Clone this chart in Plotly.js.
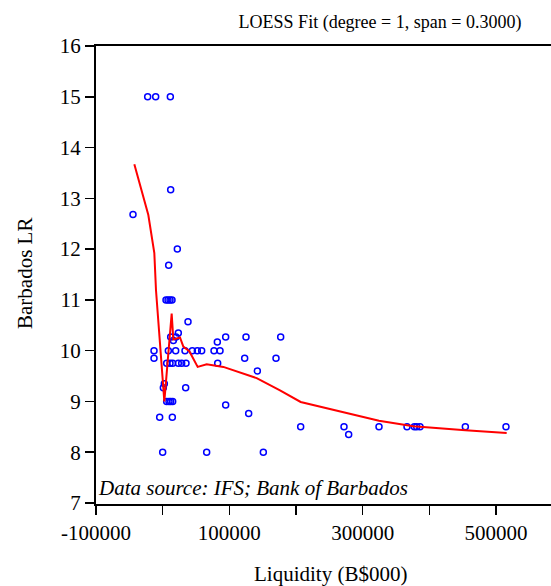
<!DOCTYPE html>
<html>
<head>
<meta charset="utf-8">
<script src="https://cdn.plot.ly/plotly-3.0.1.min.js"></script>
<style>html,body{margin:0;padding:0;background:#fff;}#chart{width:551px;height:586px;}</style>
</head>
<body>
<div id="chart"></div>
<script>
// Observed data: Liquidity (B$000) vs Barbados LR
const liquidity = [
  -22500, -10500, 11500,
  12000, -44500, 9000, 22000,
  5000, 8000, 11000, 14000,
  38000, 23500, 12000, 16000, 20000,
  82000, 94500, 125000, 177000,
  -13000, 8500, 19500, 33500, 44500, 52000, 58500, 77000, 86000,
  -13000, 123000, 170000,
  6000, 11000, 15000, 23500, 28500, 35000, 82500,
  142000,
  2500, 1000, 34500,
  6000, 9500, 12000, 15000,
  94500, 129000, -4500, 14500,
  0, 66000, 151000,
  207000, 272000, 324500, 366500, 377500, 381000, 386000, 454000, 515000,
  279000
];
const barbadosLR = [
  15, 15, 15,
  13.17, 12.68, 11.68, 12.0,
  11, 11, 11, 11,
  10.57, 10.35, 10.27, 10.2, 10.27,
  10.17, 10.27, 10.27, 10.27,
  10, 10, 10, 10, 10, 10, 10, 10, 10,
  9.85, 9.85, 9.85,
  9.75, 9.75, 9.75, 9.75, 9.75, 9.75, 9.75,
  9.6,
  9.35, 9.27, 9.27,
  9, 9, 9, 9,
  8.93, 8.76, 8.69, 8.69,
  8, 8, 8,
  8.5, 8.5, 8.5, 8.5, 8.5, 8.5, 8.5, 8.5, 8.5,
  8.35
];
// LOESS fit curve
const fitX = [-42500, -21500, -12500, -10000, 2500, 13500, 16000, 21000, 26000, 31000, 40000, 52500, 66000, 91000, 125000, 141000, 176000, 207000, 324500, 376000, 454000, 516000];
const fitY = [13.67, 12.67, 11.92, 11.19, 9.0, 10.73, 10.22, 10.24, 10.26, 10.08, 9.99, 9.68, 9.73, 9.68, 9.53, 9.46, 9.22, 8.99, 8.62, 8.51, 8.43, 8.38];

const xTickVals = [-100000, 0, 100000, 200000, 300000, 400000, 500000, 600000];
const xTickText = ['-100000', '', '100000', '', '300000', '', '500000', ''];
const yTickVals = [7, 8, 9, 10, 11, 12, 13, 14, 15, 16];

const serif = '"Liberation Serif", "Times New Roman", serif';

const traces = [
  {
    x: liquidity, y: barbadosLR, type: 'scatter', mode: 'markers',
    marker: {symbol: 'circle-open', size: 6, color: '#0000ff', line: {width: 1.5, color: '#0000ff'}},
    showlegend: false, hoverinfo: 'x+y'
  },
  {
    x: fitX, y: fitY, type: 'scatter', mode: 'lines',
    line: {color: '#ff0000', width: 2},
    showlegend: false
  }
];

const layout = {
  width: 551, height: 586,
  margin: {l: 96, r: 0, t: 46, b: 82},
  paper_bgcolor: '#ffffff', plot_bgcolor: '#ffffff',
  font: {family: serif, color: '#000', size: 21},
  title: {
    text: 'LOESS Fit (degree = 1, span = 0.3000)',
    font: {family: serif, size: 18, color: '#000'},
    xref: 'container', x: 380/551, xanchor: 'center',
    yref: 'container', y: 1 - 22/586, yanchor: 'middle'
  },
  xaxis: {
    range: [-100000, 582500],
    tickvals: xTickVals, ticktext: xTickText,
    ticks: 'outside', ticklen: 9, tickwidth: 1.5, tickcolor: '#000',
    showline: true, linecolor: '#000', linewidth: 2, mirror: true,
    showgrid: false, zeroline: false,
    tickfont: {family: serif, size: 21, color: '#000'}
  },
  yaxis: {
    range: [6.98, 16],
    tickvals: yTickVals,
    ticks: 'outside', ticklen: 9, tickwidth: 1.5, tickcolor: '#000',
    showline: true, linecolor: '#000', linewidth: 2,
    showgrid: false, zeroline: false,
    tickfont: {family: serif, size: 21, color: '#000'}
  },
  annotations: [
    {
      text: 'Liquidity (B$000)', xref: 'paper', yref: 'paper',
      x: (330 - 96) / 455, y: (504 - 574) / 458, xanchor: 'center', yanchor: 'middle',
      showarrow: false, font: {family: serif, size: 21, color: '#000'}
    },
    {
      text: 'Barbados LR', xref: 'paper', yref: 'paper', textangle: -90,
      x: (25 - 96) / 455, y: (504 - 274) / 458, xanchor: 'center', yanchor: 'middle',
      showarrow: false, font: {family: serif, size: 21, color: '#000'}
    },
    {
      text: '<i>Data source: IFS; Bank of Barbados</i>', xref: 'paper', yref: 'paper',
      x: 0, y: (504 - 488) / 458, xanchor: 'left', yanchor: 'middle',
      showarrow: false, font: {family: serif, size: 21, color: '#000'}
    }
  ]
};

Plotly.newPlot('chart', traces, layout, {displayModeBar: false, staticPlot: true});
</script>
</body>
</html>
